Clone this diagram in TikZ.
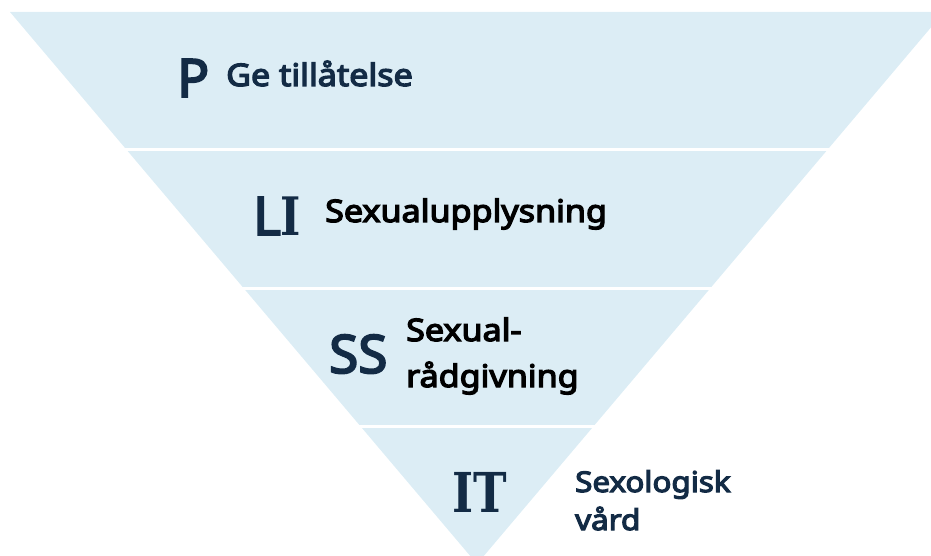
\documentclass[tikz,border=0pt]{standalone}
\usepackage{fontspec}
\setmainfont{Noto Sans}[BoldFont={Noto Sans},BoldFeatures={FakeBold=3.5}]
\newfontfamily\lblfont{Noto Sans}[FakeBold=4.2,FakeStretch=1.1]
\newfontfamily\slab[FakeStretch=0.82]{DejaVu Serif}
\definecolor{band}{HTML}{DCEDF5}
\definecolor{navy}{HTML}{132B45}
\tikzset{
  abbr/.style={anchor=base west,inner sep=0pt,text=navy,font=\bfseries\fontsize{53}{53}\selectfont},
  lbl/.style={anchor=base west,inner sep=0pt,align=left,font=\lblfont\fontsize{31}{46}\selectfont}
}
\begin{document}
\begin{tikzpicture}[x=1pt,y=-1pt]
\useasboundingbox (0,0) rectangle (931,556);
\clip (0,0) rectangle (931,556);
\fill[band] (10,12)--(944,12)--(477,564)--cycle;
% white gaps between the levels
\foreach \y in {149.5,288,426}
  \draw[white,line width=3pt] (0,\y)--(931,\y);
\node[abbr] (p) at (177,97) {P};
\node[lbl,text=navy] (pl) at (226,86) {Ge tillåtelse};
\node[abbr] (li) at (253,235) {L{\slab I}};
\node[lbl,text=black] (lil) at (325,222) {Sexualupplysning};
\node[abbr] (ss) at (329,373) {SS};
% base of a two-line node sits on its last line
\node[lbl,text=black] (ssl) at (406,387) {Sexual-\\rådgivning};
\node[abbr,font=\slab\bfseries\fontsize{55}{55}\selectfont] (it) at (452,512) {IT};
\node[lbl,text=navy,font=\lblfont\fontsize{28.5}{38}\selectfont] (itl) at (575,530) {Sexologisk\\vård};
\end{tikzpicture}
\end{document}
